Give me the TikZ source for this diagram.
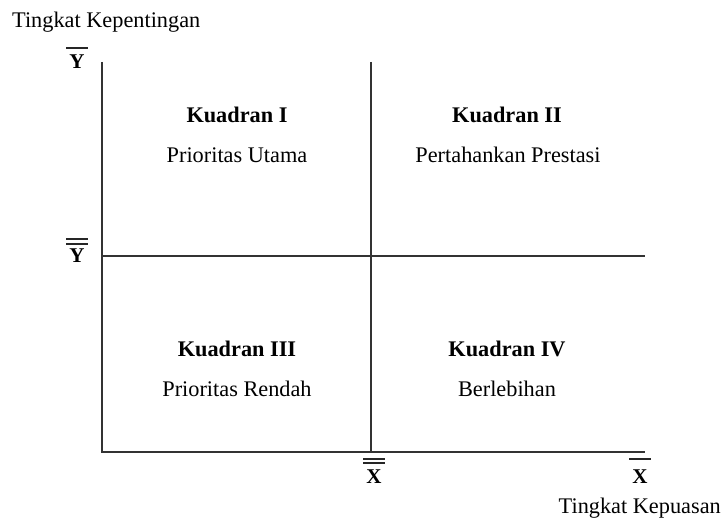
\documentclass[tikz,border=0pt]{standalone}
\usepackage{fontspec}
\setmainfont{Liberation Serif}
\begin{document}
\begin{tikzpicture}[x=1pt,y=-1pt,
  axis/.style={draw=black!80,line width=1.1pt},
  bar/.style={draw=black!85,line width=1.3pt},
  lbl/.style={inner sep=0pt,font=\fontsize{22.3}{26}\selectfont},
  head/.style={inner sep=0pt,font=\fontsize{22.3}{26}\selectfont\bfseries},
  sym/.style={inner sep=0pt,font=\fontsize{21}{24}\selectfont\bfseries}]
\useasboundingbox (0,0) rectangle (722,518);
% axis points
\coordinate (O) at (102,452);
\coordinate (T) at (102,62);
\coordinate (R) at (645,452);
\coordinate (MT) at (371,62);
\coordinate (MB) at (371,452);
\coordinate (ML) at (102,256);
\coordinate (MR) at (645,256);
% lines
\draw[axis] (T) -- (O) -- (R);
\draw[axis] (MT) -- (MB);
\draw[axis] (ML) -- (MR);
% axis labels
\node[lbl,anchor=west] (ylab) at (12,22) {Tingkat Kepentingan};
\node[lbl,anchor=east] (xlab) at (721,508) {Tingkat Kepuasan};
\node[sym] (ybar) at (77,62) {Y};
\node[sym] (ydbar) at (77,256) {Y};
\node[sym] (xdbar) at (374,477) {X};
\node[sym] (xbar) at (640,477) {X};
% overlines
\draw[bar] ([xshift=-3pt,yshift=7pt]ybar.north west) -- ([xshift=3pt,yshift=7pt]ybar.north east);
\draw[bar] ([xshift=-3pt,yshift=5pt]ydbar.north west) -- ([xshift=3pt,yshift=5pt]ydbar.north east);
\draw[bar] ([xshift=-3pt,yshift=10pt]ydbar.north west) -- ([xshift=3pt,yshift=10pt]ydbar.north east);
\draw[bar] ([xshift=-3pt,yshift=7pt]xdbar.north west) -- ([xshift=3pt,yshift=7pt]xdbar.north east);
\draw[bar] ([xshift=-3pt,yshift=11pt]xdbar.north west) -- ([xshift=3pt,yshift=11pt]xdbar.north east);
\draw[bar] ([xshift=-3pt,yshift=11pt]xbar.north west) -- ([xshift=3pt,yshift=11pt]xbar.north east);
% quadrants
\node[head] (k1) at (237,115) {Kuadran I};
\node[lbl] (p1) at (237,155) {Prioritas Utama};
\node[head] (k2) at (507,115) {Kuadran II};
\node[lbl] (p2) at (508,155) {Pertahankan Prestasi};
\node[head] (k3) at (237,349) {Kuadran III};
\node[lbl] (p3) at (237,389) {Prioritas Rendah};
\node[head] (k4) at (507,349) {Kuadran IV};
\node[lbl] (p4) at (507,389) {Berlebihan};
\end{tikzpicture}
\end{document}
